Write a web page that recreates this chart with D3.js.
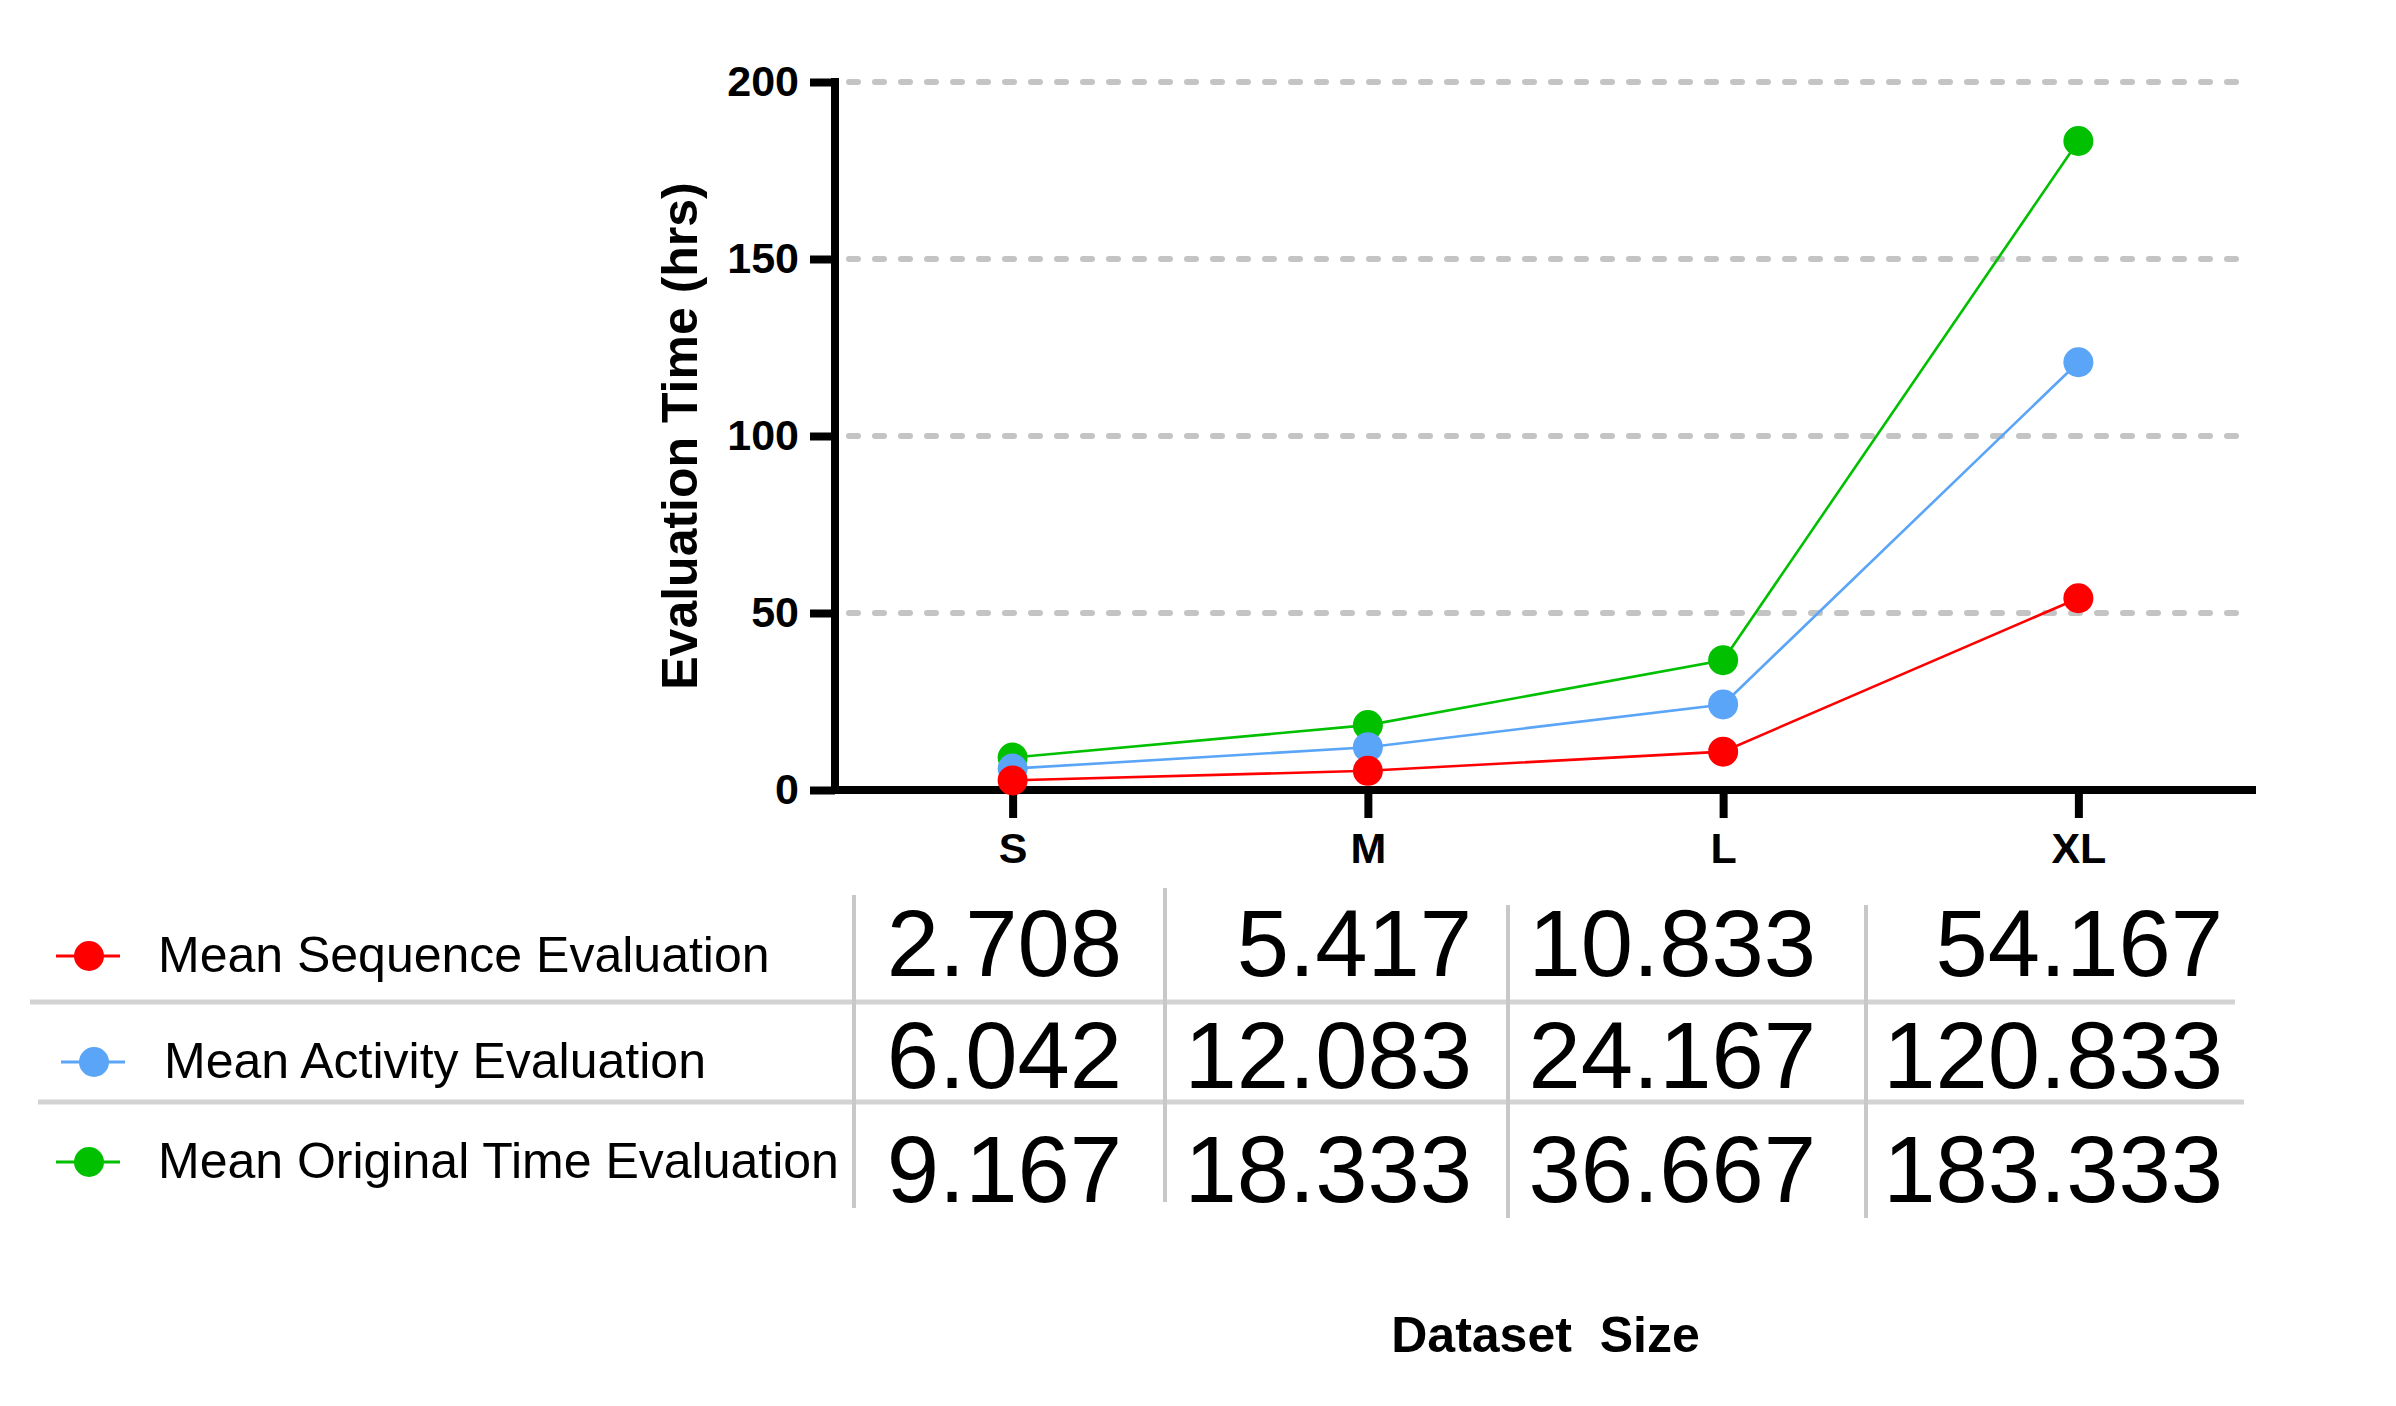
<!DOCTYPE html>
<html>
<head>
<meta charset="utf-8">
<script src="https://cdn.jsdelivr.net/npm/d3@7"></script>
<style>
  html, body { margin: 0; padding: 0; background: #fff; }
  svg { display: block; font-family: "Liberation Sans", Arial, Helvetica, sans-serif; }
</style>
</head>
<body>
<script>
// ---------- data ----------
const categories = ["S", "M", "L", "XL"];
const seriesNames = ["Mean Sequence Evaluation", "Mean Activity Evaluation", "Mean Original Time Evaluation"];
const sequenceValues = [2.708, 5.417, 10.833, 54.167];
const activityValues = [6.042, 12.083, 24.167, 120.833];
const originalValues = [9.167, 18.333, 36.667, 183.333];
const yTicks = [0, 50, 100, 150, 200];
const yTitle = "Evaluation Time (hrs)";
const xTitle = "Dataset  Size";

// ---------- styles ----------
const colors = ["#ff0000", "#5aa5f7", "#00c000"];
const W = 2396, H = 1406;

const series = seriesNames.map((name, i) => ({
  name, color: colors[i],
  values: [sequenceValues, activityValues, originalValues][i]
}));

const svg = d3.select("body").append("svg").attr("width", W).attr("height", H);

const plot = { left: 835, right: 2256, top: 82, bottom: 790 };
const x = d3.scalePoint().domain(categories).range([plot.left, plot.right]).padding(0.5);
const y = d3.scaleLinear().domain([0, 200]).range([plot.bottom, plot.top]);

// gridlines
svg.append("g").selectAll("line").data(yTicks.filter(d => d > 0)).join("line")
  .attr("x1", plot.left + 14).attr("x2", plot.right - 6)
  .attr("y1", d => y(d)).attr("y2", d => y(d))
  .attr("stroke", "#c4c4c4").attr("stroke-width", 6)
  .attr("stroke-linecap", "round").attr("stroke-dasharray", "9,17");

// y axis
const yAxis = svg.append("g").attr("transform", `translate(${plot.left},0)`)
  .call(d3.axisLeft(y).tickValues(yTicks).tickSize(25).tickPadding(11).tickSizeOuter(0));
yAxis.select(".domain").attr("stroke", "#000").attr("stroke-width", 8)
  .attr("d", `M0,${plot.top - 4}V${plot.bottom + 4}`);
yAxis.selectAll(".tick line").attr("stroke", "#000").attr("stroke-width", 8);
yAxis.selectAll(".tick text").attr("fill", "#000").attr("font-size", 43).attr("font-weight", "bold")
  .attr("font-family", "'Liberation Sans', Arial, sans-serif");

// x axis
const xAxis = svg.append("g").attr("transform", `translate(0,${plot.bottom})`)
  .call(d3.axisBottom(x).tickSize(28).tickPadding(45).tickSizeOuter(0));
xAxis.select(".domain").attr("stroke", "#000").attr("stroke-width", 8)
  .attr("d", `M${plot.left - 4},0H${plot.right}`);
xAxis.selectAll(".tick line").attr("stroke", "#000").attr("stroke-width", 8);
xAxis.selectAll(".tick text").attr("fill", "#000").attr("font-size", 43).attr("font-weight", "bold")
  .attr("font-family", "'Liberation Sans', Arial, sans-serif").attr("dy", 0);

// y title
svg.append("text")
  .attr("transform", `translate(697,${(plot.top + plot.bottom) / 2}) rotate(-90)`)
  .attr("text-anchor", "middle").attr("font-size", 50).attr("font-weight", "bold")
  .text(yTitle);

// lines and markers (green under blue under red)
const line = d3.line().x((d, i) => x(categories[i])).y(d => y(d));
const drawOrder = series.slice().reverse();
svg.append("g").selectAll("path").data(drawOrder).join("path")
  .attr("d", s => line(s.values)).attr("fill", "none")
  .attr("stroke", s => s.color).attr("stroke-width", 2.6);
drawOrder.forEach(s => {
  svg.append("g").selectAll("circle").data(s.values).join("circle")
    .attr("cx", (d, i) => x(categories[i])).attr("cy", d => y(d))
    .attr("r", 15).attr("fill", s.color);
});

// ---------- table ----------
const rowMarkerY = [956, 1062, 1162];
const rowMarkerX = [89, 94, 89];
const rowTextX = [158, 164, 158];
const rowTextBase = [972, 1078, 1178];
const rowNumBase = [976, 1088, 1202];
const colRight = [1122, 1472, 1816, 2223];
const fmt = d3.format(".3f");

// horizontal separators
[[1002, 30, 2235], [1102, 38, 2244]].forEach(([yy, x1, x2]) => {
  svg.append("line").attr("x1", x1).attr("x2", x2).attr("y1", yy).attr("y2", yy)
    .attr("stroke", "#d3d3d3").attr("stroke-width", 5);
});
// vertical separators
[[854, 895, 1208], [1165, 888, 1202], [1508, 905, 1218], [1866, 905, 1218]].forEach(([xx, y1, y2]) => {
  svg.append("line").attr("x1", xx).attr("x2", xx).attr("y1", y1).attr("y2", y2)
    .attr("stroke", "#c8c8c8").attr("stroke-width", 4);
});

series.forEach((s, r) => {
  const g = svg.append("g");
  g.append("line").attr("x1", rowMarkerX[r] - 33).attr("x2", rowMarkerX[r] + 31)
    .attr("y1", rowMarkerY[r]).attr("y2", rowMarkerY[r])
    .attr("stroke", s.color).attr("stroke-width", 3);
  g.append("circle").attr("cx", rowMarkerX[r]).attr("cy", rowMarkerY[r]).attr("r", 15).attr("fill", s.color);
  g.append("text").attr("x", rowTextX[r]).attr("y", rowTextBase[r])
    .attr("font-size", 50).attr("fill", "#000").text(s.name);
  g.selectAll("text.num").data(s.values).join("text").attr("class", "num")
    .attr("x", (d, i) => colRight[i]).attr("y", rowNumBase[r])
    .attr("text-anchor", "end").attr("font-size", 94).attr("fill", "#000")
    .text(d => fmt(d));
});

// x title
svg.append("text").attr("x", (plot.left + plot.right) / 2).attr("y", 1352)
  .attr("text-anchor", "middle").attr("font-size", 50).attr("font-weight", "bold")
  .attr("xml:space", "preserve").style("white-space", "pre")
  .text(xTitle);
</script>
</body>
</html>
